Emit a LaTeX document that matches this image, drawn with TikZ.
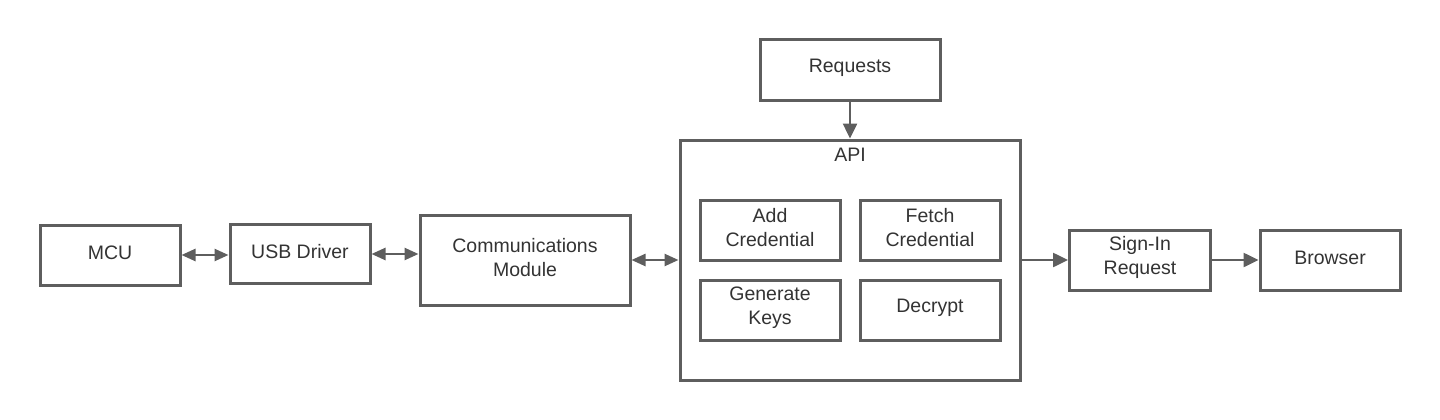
\documentclass[tikz,border=0pt]{standalone}
\usepackage{fontspec}
\setmainfont{Liberation Sans}
\usetikzlibrary{arrows.meta}
\definecolor{ln}{HTML}{5E5E5E}
\definecolor{tx}{HTML}{333333}
\begin{document}
\begin{tikzpicture}[x=1pt,y=-1pt,
  box/.style={draw=ln,line width=3pt,fill=white,inner sep=0pt},
  lbl/.style={text=tx,align=center,inner sep=0pt},
  conn/.style={draw=ln,line width=2.5pt,-{Triangle[length=15pt,width=14pt]}},
  bconn/.style={draw=ln,line width=2.5pt,{Triangle[length=14pt,width=12pt]}-{Triangle[length=14pt,width=12pt]}},
  font=\fontsize{19.5}{24}\selectfont]
\useasboundingbox (0,0) rectangle (1440,420);
\newcommand{\bx}[6]{\node[box,minimum width=#4,minimum height=#5] (#1) at (#2,#3) {};
  \node[lbl] (#1-t) at ([yshift=2.5pt]#1.center) {#6};}
\bx{mcu}{110}{255}{140pt}{60pt}{MCU}
\bx{usb}{300}{254}{140pt}{59pt}{USB Driver}
\bx{comm}{525}{260}{210pt}{90pt}{Communications\\Module}
\bx{req}{850}{70}{180pt}{60pt}{Requests}
\node[box,minimum width=340pt,minimum height=240pt] (api) at (850,260) {};
\node[lbl] (apil) at (850,155) {API};
\bx{add}{770}{230}{140pt}{60pt}{Add\\Credential}
\bx{fetch}{930}{230}{140pt}{60pt}{Fetch\\Credential}
\bx{gen}{770}{310}{140pt}{60pt}{Generate\\Keys}
\bx{dec}{930}{310}{140pt}{60pt}{Decrypt}
\bx{sign}{1140}{260}{141pt}{60pt}{Sign-In\\Request}
\bx{brow}{1330}{260}{140pt}{60pt}{Browser}
\draw[bconn] (mcu.east) -- (usb.west |- mcu.east);
\draw[bconn] (usb.east) -- (comm.west |- usb.east);
\draw[bconn] (comm.east) -- (api.west |- comm.east);
\draw[conn] (req.south) -- (api.north);
\draw[conn] (api.east |- sign.west) -- (sign.west);
\draw[conn] (sign.east) -- (brow.west);
\end{tikzpicture}
\end{document}
